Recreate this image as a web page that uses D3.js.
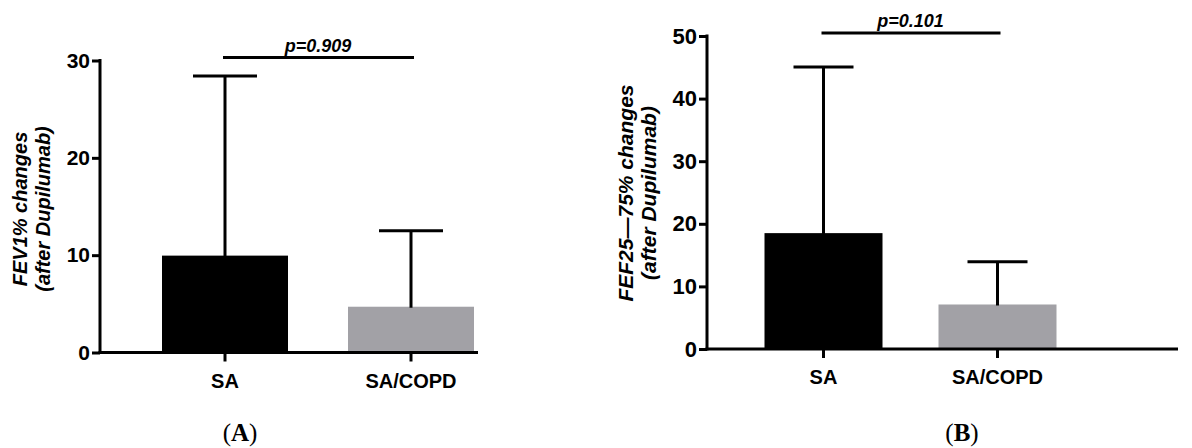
<!DOCTYPE html>
<html>
<head>
<meta charset="utf-8">
<script src="https://cdn.jsdelivr.net/npm/d3@7"></script>
<style>
  body { margin: 0; background: #fff; }
  svg { display: block; }
</style>
</head>
<body>
<script>
// groups and values
var groups = ["SA", "SA/COPD"];
var barColors = ["#000000", "#a2a1a6"];

var fev1Mean = [9.85, 4.6];
var fev1Err = [18.55, 7.9];
var fev1Ticks = [0, 10, 20, 30];

var fefMean = [18.35, 6.95];
var fefErr = [26.7, 7.0];
var fefTicks = [0, 10, 20, 30, 40, 50];

var width = 1192;
var height = 448;
var sans = "'Liberation Sans', Arial, sans-serif";

var svg = d3.select("body").append("svg")
    .attr("width", width)
    .attr("height", height);

// draw one panel
function drawPanel(p) {
    var g = svg.append("g");

    var y = d3.scaleLinear()
        .domain([0, p.ticks[p.ticks.length - 1]])
        .range([p.y0, p.y1]);

    var x = d3.scaleBand()
        .domain(groups)
        .range(p.xRange)
        .paddingInner(1 / 3)
        .paddingOuter(1 / 6);

    // bars
    g.selectAll(".bar")
        .data(groups)
        .enter()
        .append("rect")
        .attr("x", function(d) { return x(d); })
        .attr("width", x.bandwidth())
        .attr("y", function(d, i) { return y(p.mean[i]); })
        .attr("height", function(d, i) { return y(0) - y(p.mean[i]); })
        .style("fill", function(d, i) { return barColors[i]; })
        .style("stroke", function(d, i) { return barColors[i]; })
        .style("stroke-width", 2);

    // error bars (upper only)
    var err = g.selectAll(".err")
        .data(groups)
        .enter()
        .append("g");

    err.append("line")
        .attr("x1", function(d) { return x(d) + x.bandwidth() / 2; })
        .attr("x2", function(d) { return x(d) + x.bandwidth() / 2; })
        .attr("y1", function(d, i) { return y(p.mean[i]); })
        .attr("y2", function(d, i) { return y(p.mean[i] + p.err[i]); })
        .style("stroke", "#000")
        .style("stroke-width", 3);

    err.append("line")
        .attr("x1", function(d) { return x(d) + x.bandwidth() / 2 - p.cap; })
        .attr("x2", function(d) { return x(d) + x.bandwidth() / 2 + p.cap; })
        .attr("y1", function(d, i) { return y(p.mean[i] + p.err[i]); })
        .attr("y2", function(d, i) { return y(p.mean[i] + p.err[i]); })
        .style("stroke", "#000")
        .style("stroke-width", 3);

    // y axis
    var yAxis = g.append("g")
        .attr("transform", "translate(" + p.axisX + ",0)")
        .call(d3.axisLeft(y).tickValues(p.ticks).tickSize(8).tickPadding(2));
    yAxis.select(".domain").remove();
    yAxis.append("line")
        .attr("x1", 0).attr("x2", 0)
        .attr("y1", y(0) + 1.5).attr("y2", y(p.ticks[p.ticks.length - 1]) - 1.5)
        .style("stroke", "#000")
        .style("stroke-width", 3);
    yAxis.selectAll(".tick line").style("stroke-width", 3);
    yAxis.selectAll(".tick text")
        .style("font-family", sans)
        .style("font-size", p.tickSize + "px")
        .style("font-weight", "bold")
        .style("fill", "#000");

    // x axis
    var xAxis = g.append("g")
        .attr("transform", "translate(0," + y(0) + ")")
        .call(d3.axisBottom(x).tickSize(9).tickPadding(12));
    xAxis.select(".domain").remove();
    xAxis.append("line")
        .attr("x1", p.axisX - 1.5).attr("x2", p.axisEnd)
        .attr("y1", 0).attr("y2", 0)
        .style("stroke", "#000")
        .style("stroke-width", 3);
    xAxis.selectAll(".tick line").style("stroke-width", 3);
    xAxis.selectAll(".tick text")
        .style("font-family", sans)
        .style("font-size", "20px")
        .style("font-weight", "bold")
        .style("fill", "#000");

    // significance line
    var cx0 = x(groups[0]) + x.bandwidth() / 2;
    var cx1 = x(groups[1]) + x.bandwidth() / 2;
    g.append("line")
        .attr("x1", cx0 - 2).attr("x2", cx1 + 3)
        .attr("y1", p.sigY).attr("y2", p.sigY)
        .style("stroke", "#000")
        .style("stroke-width", 3);
    g.append("text")
        .attr("x", (cx0 + cx1) / 2)
        .attr("y", p.sigY - 6)
        .attr("text-anchor", "middle")
        .style("font-family", sans)
        .style("font-size", "18px")
        .style("font-weight", "bold")
        .style("font-style", "italic")
        .text(p.pText);

    // y axis title
    var t = g.append("text")
        .attr("transform", "translate(" + p.titleX + "," + p.titleY + ") rotate(-90)")
        .attr("text-anchor", "middle")
        .style("font-family", sans)
        .style("font-size", p.titleSize + "px")
        .style("font-weight", "bold")
        .style("font-style", "italic");
    t.append("tspan").attr("x", 0).attr("dy", 0).text(p.title[0]);
    t.append("tspan").attr("x", 0).attr("dy", p.lineGap).text(p.title[1]);

    // panel label
    var lab = svg.append("text")
        .attr("x", p.labelX)
        .attr("y", 441)
        .attr("text-anchor", "middle")
        .style("font-family", "'Liberation Serif', 'DejaVu Serif', serif")
        .style("font-size", "25px");
    lab.append("tspan").text("(");
    lab.append("tspan").style("font-weight", "bold").text(p.label);
    lab.append("tspan").text(")");
}

drawPanel({
    mean: fev1Mean, err: fev1Err, ticks: fev1Ticks,
    y0: 352.5, y1: 60.5,
    xRange: [132, 504],
    axisX: 100, axisEnd: 478,
    cap: 32, tickSize: 21,
    sigY: 57.5, pText: "p=0.909",
    title: ["FEV1% changes", "(after Dupilumab)"],
    titleSize: 20,
    titleX: 27, titleY: 209, lineGap: 23,
    label: "A", labelX: 240
});

drawPanel({
    mean: fefMean, err: fefErr, ticks: fefTicks,
    y0: 349, y1: 36,
    xRange: [736.5, 1084.5],
    axisX: 707, axisEnd: 1178,
    cap: 30, tickSize: 22,
    sigY: 33, pText: "p=0.101",
    title: ["FEF25\u201475% changes", "(after Dupilumab)"],
    titleSize: 21,
    titleX: 633, titleY: 193, lineGap: 23,
    label: "B", labelX: 962
});
</script>
</body>
</html>
